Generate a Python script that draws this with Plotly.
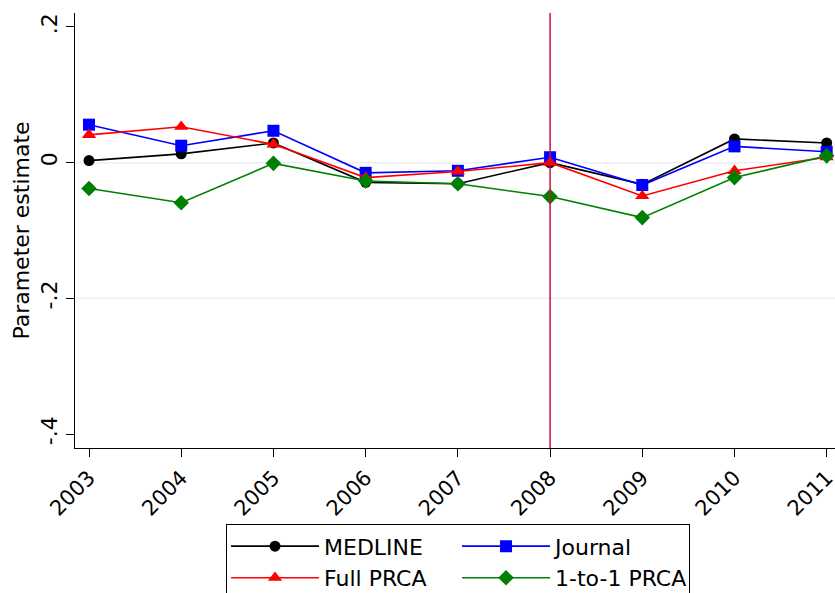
import plotly.graph_objects as go

years = [2003, 2004, 2005, 2006, 2007, 2008, 2009, 2010, 2011]
medline = [0.003, 0.013, 0.029, -0.029, -0.031, 0.000, -0.032, 0.035, 0.029]
journal = [0.056, 0.025, 0.047, -0.015, -0.012, 0.008, -0.033, 0.024, 0.016]
full_prca = [0.041, 0.053, 0.027, -0.022, -0.013, 0.000, -0.049, -0.012, 0.008]
one_to_one = [-0.038, -0.059, -0.001, -0.027, -0.031, -0.050, -0.081, -0.022, 0.010]

y_ticks = [0.2, 0, -0.2, -0.4]
y_tick_text = [".2", "0", "-.2", "-.4"]
grid_vals = [0, -0.2]
event_year = 2008

FONT = "DejaVu Sans"

series = [
    ("MEDLINE", medline, "black", "circle", 11, "c1"),
    ("Journal", journal, "blue", "square", 12, "c2"),
    ("Full PRCA", full_prca, "red", "triangle-up", 12.5, "c1"),
    ("1-to-1 PRCA", one_to_one, "green", "diamond", 12, "c2"),
]

fig = go.Figure()
for name, vals, color, sym, size, grp in series:
    fig.add_trace(go.Scatter(
        x=years, y=vals, name=name, mode="lines+markers", legendgroup=grp,
        line=dict(color=color, width=1.6),
        marker=dict(color=color, symbol=sym, size=size, line=dict(width=0)),
        cliponaxis=False,
    ))

for g in grid_vals:
    fig.add_shape(type="line", xref="paper", x0=0, x1=1, yref="y", y0=g, y1=g,
                  line=dict(color="#eaeff3", width=1.5), layer="below")

fig.add_shape(type="line", xref="x", x0=event_year, x1=event_year, yref="paper",
              y0=0, y1=1, line=dict(color="#cc1040", width=1.5), layer="above")

fig.update_layout(
    width=835, height=593,
    margin=dict(l=75, r=0, t=13, b=145, autoexpand=False),
    paper_bgcolor="white", plot_bgcolor="white",
    font=dict(family=FONT, size=22, color="black"),
    xaxis=dict(
        range=[2002.848, 2011.09], tickvals=years, ticktext=[str(y) for y in years],
        tickangle=-45, ticks="outside", ticklen=8, tickcolor="black", tickwidth=1.2,
        showline=True, linecolor="black", linewidth=1.2, showgrid=False, zeroline=False,
        tickfont=dict(size=21), automargin=False, ticklabeloverflow="allow",
    ),
    yaxis=dict(
        range=[-0.4206, 0.2206], tickvals=y_ticks, ticktext=y_tick_text,
        tickangle=-90, ticks="outside", ticklen=8, tickcolor="black", tickwidth=1.2,
        showline=True, linecolor="black", linewidth=1.2, showgrid=False, zeroline=False,
        title=dict(text="Parameter estimate", font=dict(size=22), standoff=1),
        tickfont=dict(size=22), automargin=False, ticklabeloverflow="allow",
    ),
    legend=dict(
        orientation="h", x=0.504, xanchor="center", y=-0.175, yanchor="top",
        bordercolor="black", borderwidth=1.2, bgcolor="white",
        font=dict(size=22), itemwidth=88, entrywidth=128, entrywidthmode="pixels",
        traceorder="grouped", tracegroupgap=0,
    ),
    showlegend=True,
)

fig.write_html("out.html", config={"displayModeBar": False},
               post_script="document.body.style.margin='0';")
